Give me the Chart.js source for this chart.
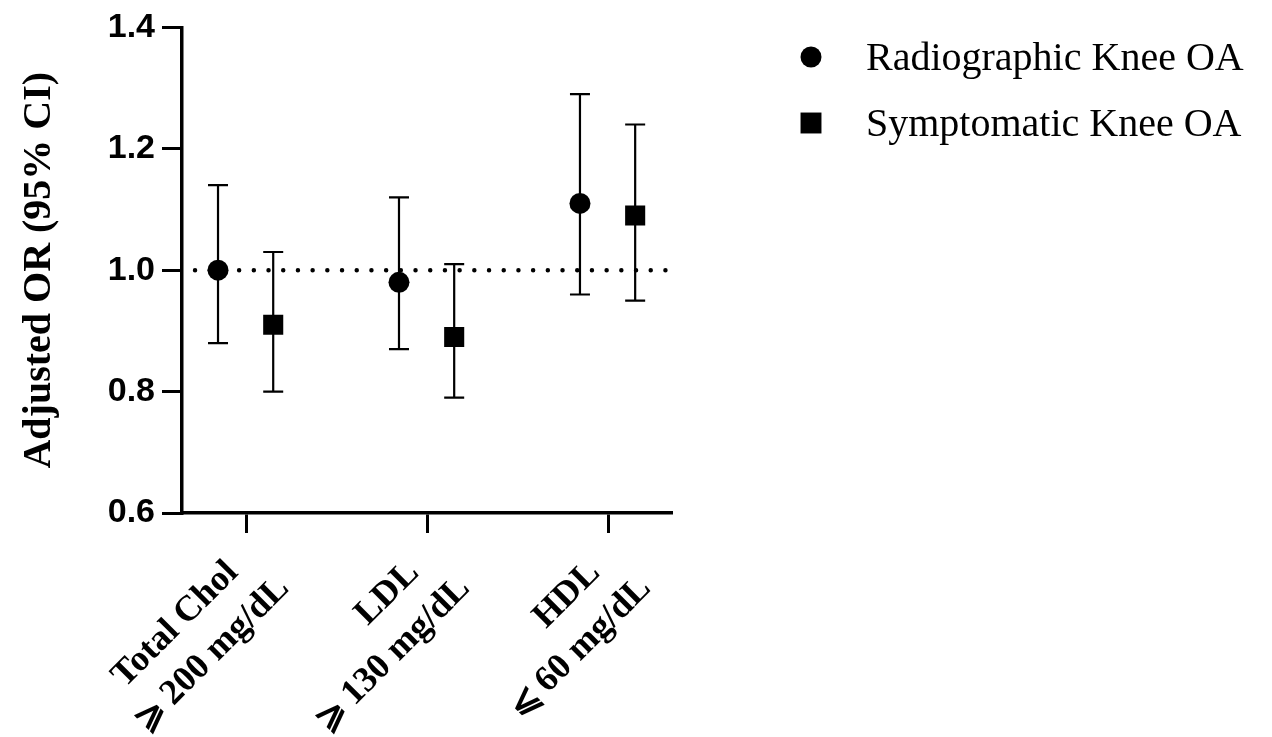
<!DOCTYPE html>
<html>
<head>
<meta charset="utf-8">
<script src="https://cdn.jsdelivr.net/npm/chart.js@4.4.0/dist/chart.umd.min.js"></script>
<style>
  html, body { margin: 0; padding: 0; background: #fff; }
  #wrap { width: 1272px; height: 737px; }
</style>
</head>
<body>
<div id="wrap"><canvas id="forest" width="1272" height="737"></canvas></div>
<script>
// categories, two lines each
var categories = [
  ['Total Chol', '\u2A7E\u2009200 mg/dL'],
  ['LDL', '\u2A7E\u2009130 mg/dL'],
  ['HDL', '\u2A7D\u200960 mg/dL']
];
var seriesNames = ['Radiographic Knee OA', 'Symptomatic Knee OA'];

// adjusted OR and 95% CI
var radioOR   = [1.00, 0.98, 1.11];
var radioLow  = [0.88, 0.87, 0.96];
var radioHigh = [1.14, 1.12, 1.29];
var sympOR    = [0.91, 0.89, 1.09];
var sympLow   = [0.80, 0.79, 0.95];
var sympHigh  = [1.03, 1.01, 1.24];

var yTicks = [0.6, 0.8, 1.0, 1.2, 1.4];
var refValue = 1.0;

// layout stuff
var groupOffset = [-0.155, 0.15];
var black = '#000';
var serif = '"Liberation Serif", "Times New Roman", serif';

var errorBars = {
  id: 'errorBars',
  beforeDatasetsDraw: function(chart) {
    var ctx = chart.ctx, ys = chart.scales.y;
    ctx.save();
    ctx.strokeStyle = black;
    ctx.lineWidth = 2.2;
    chart.data.datasets.forEach(function(ds, di) {
      if (!ds.low) return;
      var meta = chart.getDatasetMeta(di);
      meta.data.forEach(function(pt, i) {
        var top = ys.getPixelForValue(ds.high[i]);
        var bot = ys.getPixelForValue(ds.low[i]);
        ctx.beginPath();
        ctx.moveTo(pt.x, top); ctx.lineTo(pt.x, bot);
        ctx.moveTo(pt.x - 10, top); ctx.lineTo(pt.x + 10, top);
        ctx.moveTo(pt.x - 10, bot); ctx.lineTo(pt.x + 10, bot);
        ctx.stroke();
      });
    });
    ctx.restore();
  }
};

var xLabels = {
  id: 'xLabels',
  afterDraw: function(chart) {
    var ctx = chart.ctx, xs = chart.scales.x;
    ctx.save();
    ctx.fillStyle = black;
    ctx.font = 'bold 36px ' + serif;
    ctx.textAlign = 'right';
    ctx.textBaseline = 'middle';
    categories.forEach(function(lines, i) {
      ctx.save();
      ctx.translate(xs.getPixelForValue(i), xs.top);
      ctx.rotate(-Math.PI / 4);
      ctx.fillText(lines[0], -48, 29);
      ctx.fillText(lines[1], -23, 76);
      ctx.restore();
    });
    ctx.restore();
  }
};

var legendBox = {
  id: 'legendBox',
  afterDraw: function(chart) {
    var ctx = chart.ctx;
    ctx.save();
    ctx.font = '40px ' + serif;
    ctx.textAlign = 'left';
    ctx.textBaseline = 'alphabetic';
    [0, 1].forEach(function(di) {
      var ds = chart.data.datasets[di];
      var y = 57 + di * 66;
      ctx.fillStyle = ds.backgroundColor;
      Chart.helpers.drawPoint(ctx, {
        pointStyle: ds.pointStyle, radius: ds.pointStyle === 'rect' ? 14.8 : 10.5,
        rotation: 0, borderWidth: 0
      }, 811, y);
      ctx.fillStyle = black;
      ctx.fillText(ds.label, 866, y + 13);
    });
    ctx.restore();
  }
};

function axisGrid() {
  return { drawOnChartArea: false, drawTicks: true, tickLength: 20, color: black, lineWidth: 3 };
}

new Chart(document.getElementById('forest'), {
  type: 'scatter',
  data: {
    datasets: [
      {
        label: seriesNames[0],
        data: radioOR.map(function(v, i) { return { x: i + groupOffset[0], y: v }; }),
        low: radioLow, high: radioHigh,
        pointStyle: 'circle', pointRadius: 10.5,
        backgroundColor: black, borderColor: black, borderWidth: 0
      },
      {
        label: seriesNames[1],
        data: sympOR.map(function(v, i) { return { x: i + groupOffset[1], y: v }; }),
        low: sympLow, high: sympHigh,
        pointStyle: 'rect', pointRadius: 14.2,
        backgroundColor: black, borderColor: black, borderWidth: 0
      },
      {
        type: 'line',
        label: 'ref',
        data: [{ x: -0.282, y: refValue }, { x: 2.331, y: refValue }],
        borderColor: black, borderWidth: 4.5,
        borderDash: [0, 14.7], borderCapStyle: 'round',
        pointRadius: 0, fill: false
      }
    ]
  },
  options: {
    responsive: false,
    animation: false,
    devicePixelRatio: 1,
    layout: { padding: { top: 23, right: 601, bottom: 0, left: 0 } },
    plugins: { legend: { display: false }, tooltip: { enabled: false } },
    scales: {
      x: {
        type: 'linear', min: -0.354, max: 2.348,
        afterBuildTicks: function(s) { s.ticks = [0, 1, 2].map(function(v) { return { value: v }; }); },
        afterFit: function(s) { s.height = 224; },
        ticks: { display: false },
        grid: axisGrid(),
        border: { color: black, width: 3.5 }
      },
      y: {
        min: 0.6, max: 1.4,
        afterBuildTicks: function(s) { s.ticks = yTicks.map(function(v) { return { value: v }; }); },
        afterFit: function(s) { s.width = 182; },
        ticks: {
          callback: function(v) { return v.toFixed(1); },
          font: { family: '"Liberation Sans", Arial, sans-serif', weight: 'bold', size: 34 },
          color: black, padding: 7
        },
        grid: axisGrid(),
        border: { color: black, width: 3.5 },
        title: {
          display: true, text: 'Adjusted OR (95% CI)', color: black,
          font: { family: serif, weight: 'bold', size: 40 },
          padding: { top: 16, bottom: 0 }
        }
      }
    }
  },
  plugins: [errorBars, xLabels, legendBox]
});
</script>
</body>
</html>
